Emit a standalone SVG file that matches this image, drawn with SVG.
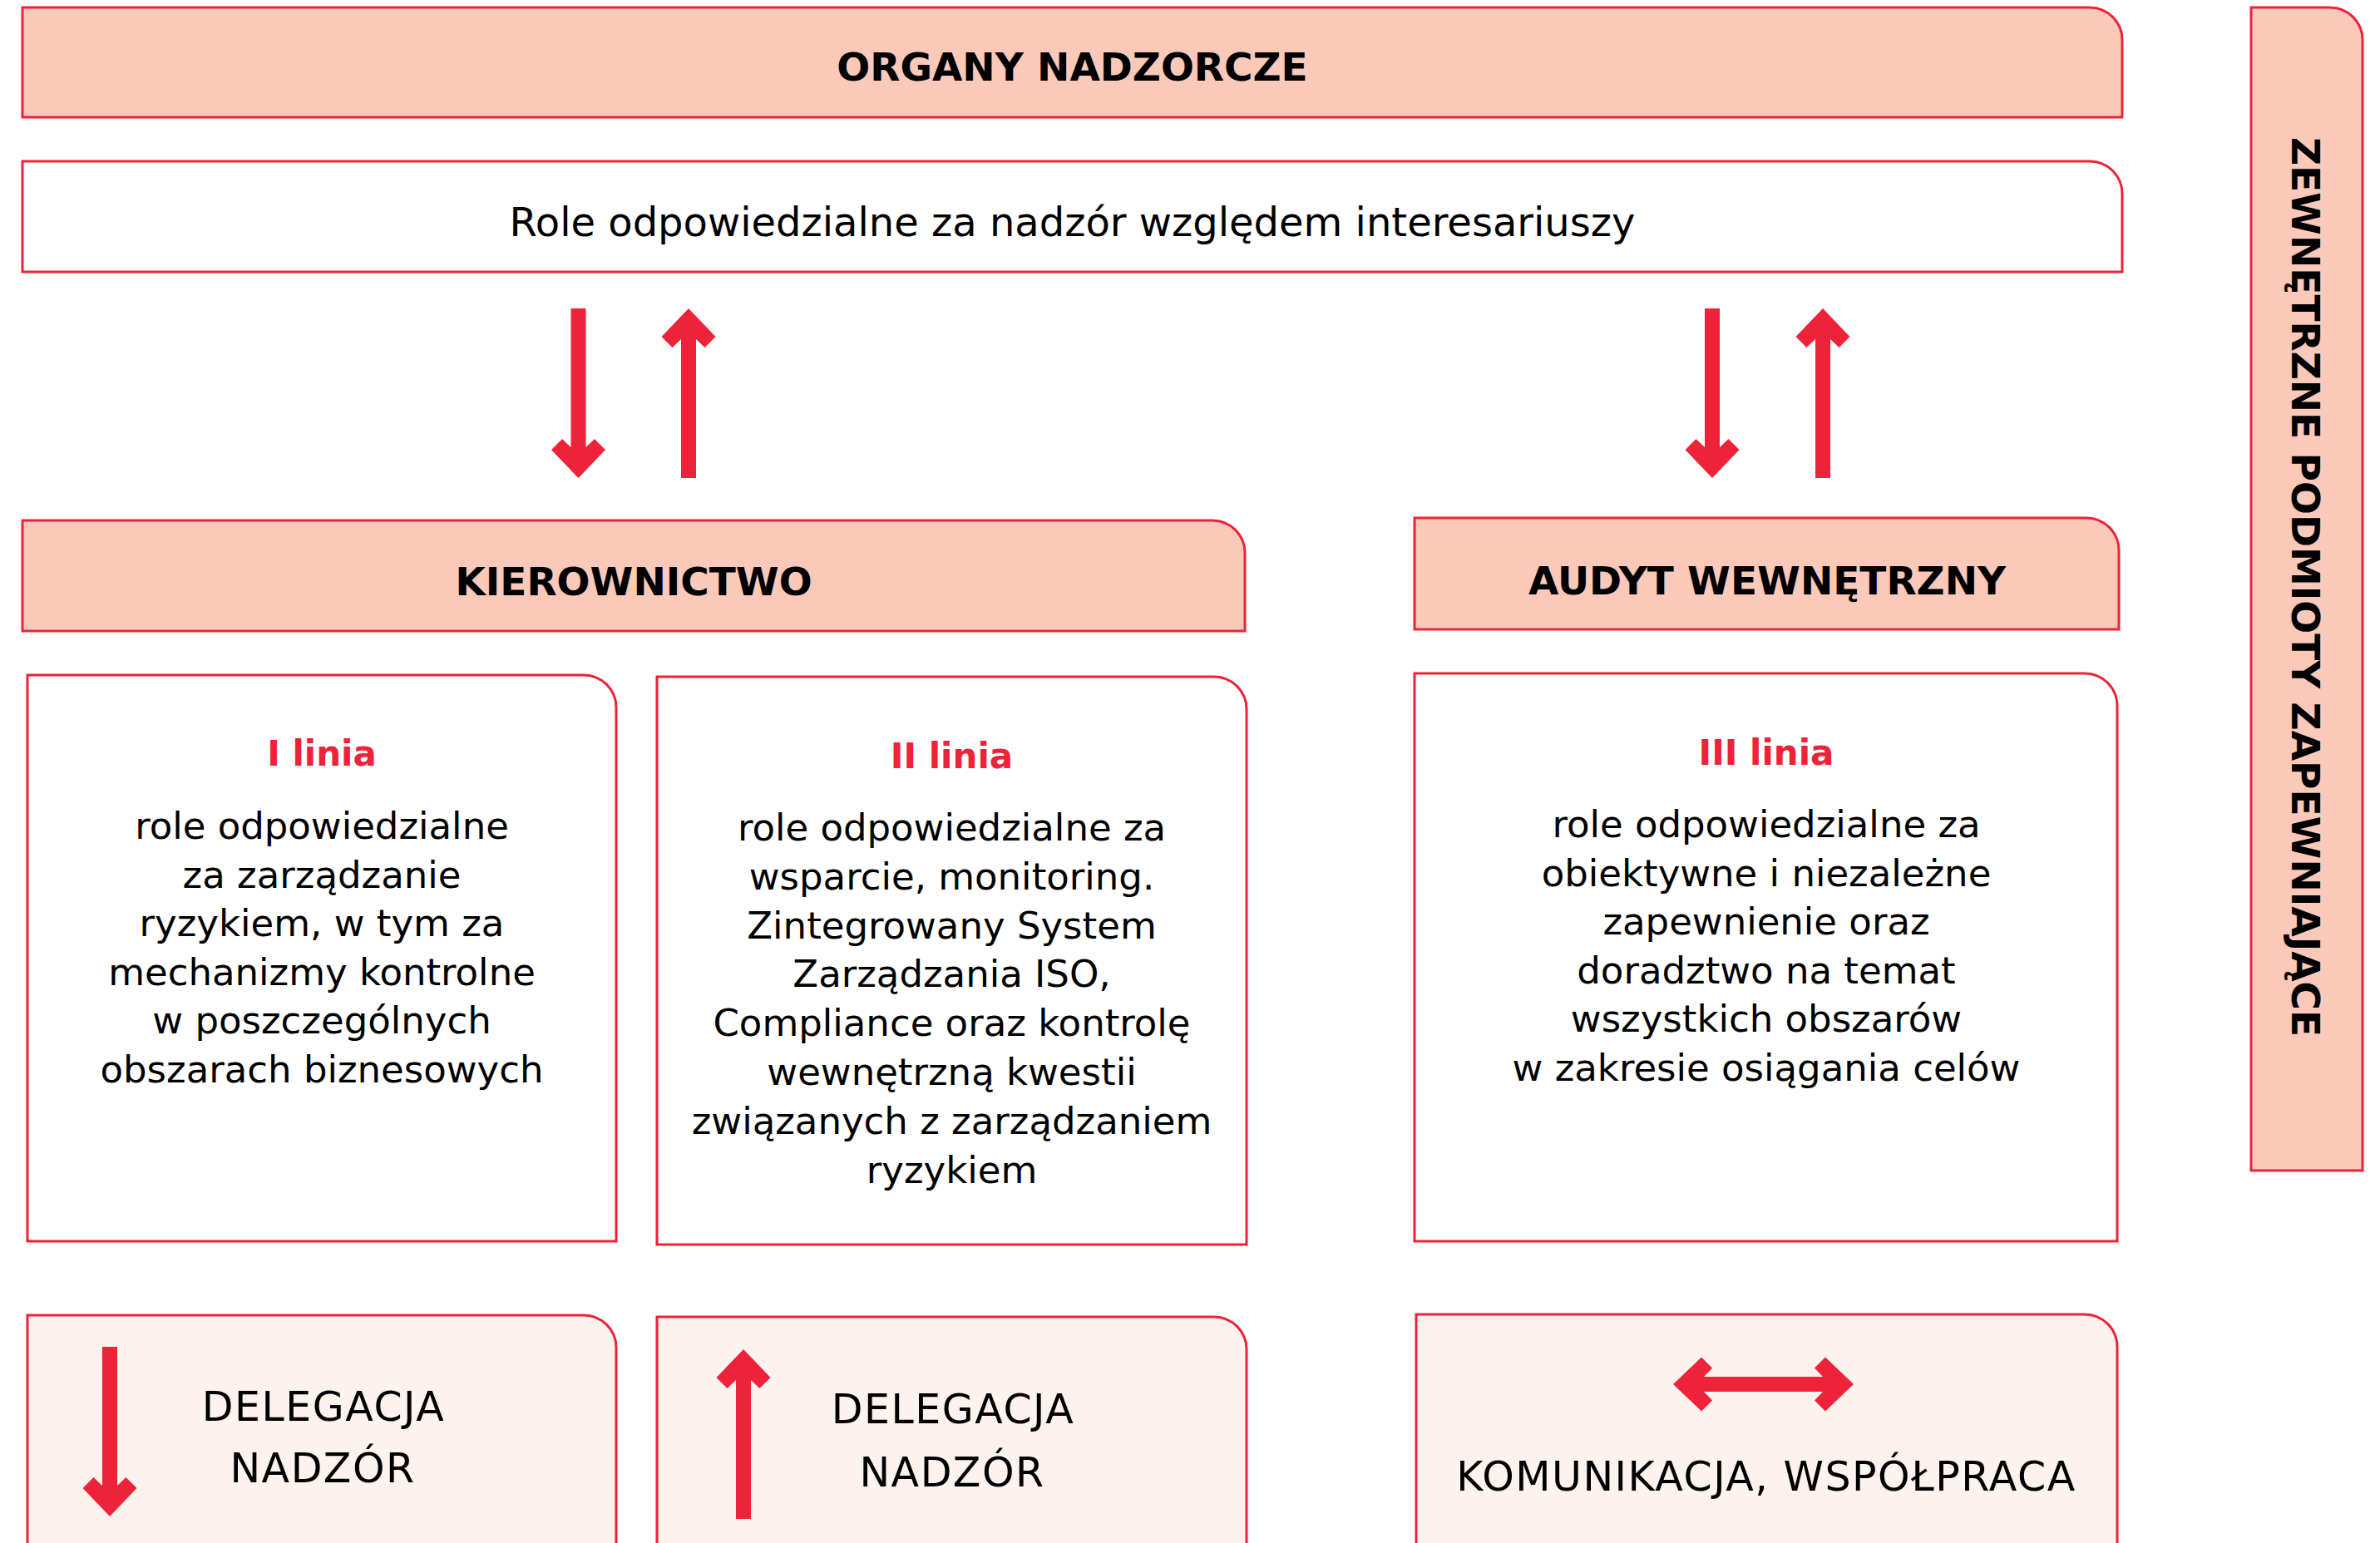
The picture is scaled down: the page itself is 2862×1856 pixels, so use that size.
<svg xmlns="http://www.w3.org/2000/svg" xmlns:xlink="http://www.w3.org/1999/xlink" width="2862" height="1856" viewBox="0 0 2862 1856">
<style>
.hdr{fill:#FAC9BA;stroke:#EE2238;stroke-width:3}
.wht{fill:#FFFFFF;stroke:#EE2238;stroke-width:3}
.lgt{fill:#FCF2EE;stroke:#EE2238;stroke-width:3}
.arr{fill:#EE2238}
text{font-family:"DejaVu Sans","Liberation Sans",sans-serif;fill:#000}
.h{font-weight:bold;font-size:47px;text-anchor:middle}
.t{font-weight:bold;font-size:42px;fill:#EE2238;text-anchor:middle}
.b{font-size:45px;text-anchor:middle}
.r{font-size:48px;text-anchor:middle}
.c{font-size:49px;text-anchor:middle;letter-spacing:1.5px}
</style>
<defs>
<path id="down" d="M -9,-204 H 9 V -37 L 19.5,-47 L 32.5,-34 L 0,0 L -32.5,-34 L -19.5,-47 L -9,-37 Z"/>
</defs>

<g id="organy">
<path class="hdr" d="M 27,9 H 2513 A 39 39 0 0 1 2552,48 V 141 H 27 Z"/>
<text class="h" x="1289.5" y="97">ORGANY NADZORCZE</text>
</g>

<g id="role">
<path class="wht" d="M 27,194 H 2513 A 39 39 0 0 1 2552,233 V 327 H 27 Z"/>
<text class="r" x="1289.5" y="284">Role odpowiedzialne za nadzór względem interesariuszy</text>
</g>

<g id="zewnetrzne">
<path class="hdr" d="M 2707,9 H 2802 A 39 39 0 0 1 2841,48 V 1408 H 2707 Z"/>
<text class="h" transform="translate(2756,706) rotate(90)" x="0" y="0">ZEWNĘTRZNE PODMIOTY ZAPEWNIAJĄCE</text>
</g>

<g id="kierownictwo">
<path class="hdr" d="M 27,626 H 1458 A 39 39 0 0 1 1497,665 V 759 H 27 Z"/>
<text class="h" x="762" y="716">KIEROWNICTWO</text>
</g>

<g id="audyt">
<path class="hdr" d="M 1701,623 H 2509 A 39 39 0 0 1 2548,662 V 757 H 1701 Z"/>
<text class="h" x="2125" y="715">AUDYT WEWNĘTRZNY</text>
</g>

<g id="linia1">
<path class="wht" d="M 33,812 H 702 A 39 39 0 0 1 741,851 V 1493 H 33 Z"/>
<text class="t" x="387" y="921">I linia</text>
<text class="b" x="387" y="1009">role odpowiedzialne</text>
<text class="b" x="387" y="1067.6">za zarządzanie</text>
<text class="b" x="387" y="1126.2">ryzykiem, w tym za</text>
<text class="b" x="387" y="1184.8">mechanizmy kontrolne</text>
<text class="b" x="387" y="1243.4">w poszczególnych</text>
<text class="b" x="387" y="1302">obszarach biznesowych</text>
</g>

<g id="linia2">
<path class="wht" d="M 790,814 H 1460 A 39 39 0 0 1 1499,853 V 1497 H 790 Z"/>
<text class="t" x="1144.5" y="924">II linia</text>
<text class="b" x="1144.5" y="1011">role odpowiedzialne za</text>
<text class="b" x="1144.5" y="1069.8">wsparcie, monitoring.</text>
<text class="b" x="1144.5" y="1128.6">Zintegrowany System</text>
<text class="b" x="1144.5" y="1187.4">Zarządzania ISO,</text>
<text class="b" x="1144.5" y="1246.2">Compliance oraz kontrolę</text>
<text class="b" x="1144.5" y="1305">wewnętrzną kwestii</text>
<text class="b" x="1144.5" y="1363.8">związanych z zarządzaniem</text>
<text class="b" x="1144.5" y="1422.6">ryzykiem</text>
</g>

<g id="linia3">
<path class="wht" d="M 1701,810 H 2507 A 39 39 0 0 1 2546,849 V 1493 H 1701 Z"/>
<text class="t" x="2124" y="920">III linia</text>
<text class="b" x="2124" y="1007">role odpowiedzialne za</text>
<text class="b" x="2124" y="1065.5">obiektywne i niezależne</text>
<text class="b" x="2124" y="1124">zapewnienie oraz</text>
<text class="b" x="2124" y="1182.5">doradztwo na temat</text>
<text class="b" x="2124" y="1241">wszystkich obszarów</text>
<text class="b" x="2124" y="1299.5">w zakresie osiągania celów</text>
</g>

<g id="legenda1">
<path class="lgt" d="M 33,1582 H 702 A 39 39 0 0 1 741,1621 V 1880 H 33 Z"/>
<use href="#down" xlink:href="#down" class="arr" transform="translate(132,1824)"/>
<text class="c" x="389" y="1709">DELEGACJA</text>
<text class="c" x="388" y="1783">NADZÓR</text>
</g>

<g id="legenda2">
<path class="lgt" d="M 790,1584 H 1460 A 39 39 0 0 1 1499,1623 V 1880 H 790 Z"/>
<use href="#down" xlink:href="#down" class="arr" transform="translate(894,1623) rotate(180)"/>
<text class="c" x="1146" y="1712">DELEGACJA</text>
<text class="c" x="1145" y="1788">NADZÓR</text>
</g>

<g id="legenda3">
<path class="lgt" d="M 1703,1581 H 2507 A 39 39 0 0 1 2546,1620 V 1880 H 1703 Z"/>
<path class="arr" d="M 2012,1665 L 2046,1632.5 L 2059,1645.5 L 2049,1656 H 2192 L 2182,1645.5 L 2195,1632.5 L 2229,1665 L 2195,1697.5 L 2182,1684.5 L 2192,1674 H 2049 L 2059,1684.5 L 2046,1697.5 Z"/>
<text class="c" x="2124" y="1793">KOMUNIKACJA, WSPÓŁPRACA</text>
</g>

<g id="connectors" class="arr">
<use href="#down" xlink:href="#down" transform="translate(695.5,575)"/>
<use href="#down" xlink:href="#down" transform="translate(828,371) rotate(180)"/>
<use href="#down" xlink:href="#down" transform="translate(2059,575)"/>
<use href="#down" xlink:href="#down" transform="translate(2192,371) rotate(180)"/>
</g>
</svg>
